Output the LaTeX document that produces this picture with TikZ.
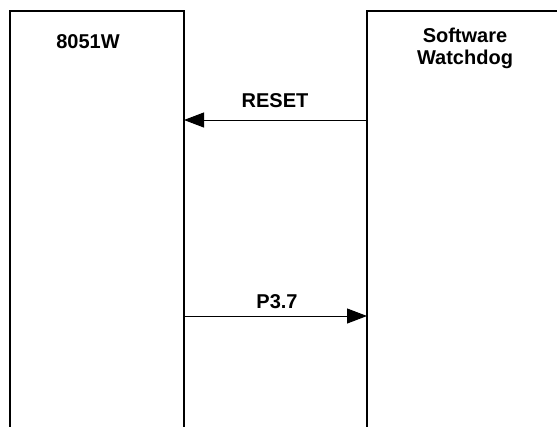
\documentclass[tikz,border=0pt]{standalone}
\usepackage{fontspec}
\setmainfont{Liberation Sans}
\usetikzlibrary{arrows.meta}
\tikzset{
  blockbox/.style={draw=black, line width=2pt, fill=none, inner sep=0pt, outer sep=0pt},
  lbl/.style={font=\fontsize{20}{22}\selectfont\bfseries, inner sep=0pt, align=center},
  sig/.style={draw=black, line width=1pt, -{Triangle[length=20pt,width=15pt]}}
}
\begin{document}
\begin{tikzpicture}[x=1pt,y=-1pt]
\useasboundingbox (0,0) rectangle (557,426);
\clip (0,0) rectangle (557,426);
\node[blockbox, minimum width=174pt, minimum height=430pt] (cpu) at (97,226) {};
\node[blockbox, minimum width=230pt, minimum height=430pt] (wd) at (482,226) {};
\node[lbl, anchor=base] (cpulbl) at (88,48) {8051W};
\node[lbl, anchor=north] (wdlbl) at (465,27.5) {Software\\Watchdog};
\coordinate (rsA) at (wd.west |- 0,120);
\coordinate (rsB) at (cpu.east |- 0,120);
\coordinate (p3A) at (cpu.east |- 0,316);
\coordinate (p3B) at (wd.west |- 0,316);
\draw[sig] (rsA) -- (rsB);
\draw[sig] (p3A) -- (p3B);
\node[lbl, anchor=base] (rslbl) at (275,107) {RESET};
\node[lbl, anchor=base] (p3lbl) at (277,308) {P3.7};
\end{tikzpicture}
\end{document}
